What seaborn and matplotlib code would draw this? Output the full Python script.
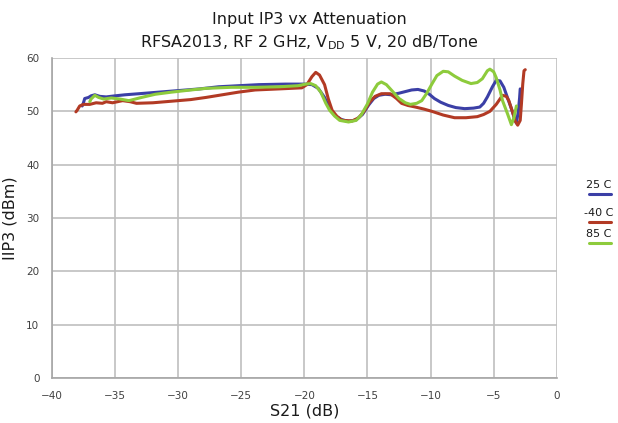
import matplotlib
matplotlib.use("Agg")
import matplotlib.pyplot as plt
from matplotlib.lines import Line2D
import seaborn as sns
import pandas as pd

# series: S21 (dB) vs IIP3 (dBm)
s21_25c = [-37.6, -37.5, -37.4, -37.1, -36.9, -36.6, -36.2, -35.7, -35.0, -34.2, -33.1, -31.5,
           -29.9, -28.3, -26.8, -25.2, -23.6, -21.5, -20.0, -19.4, -18.9, -18.4, -18.0, -17.6,
           -17.1, -16.5, -15.9, -15.4, -14.9, -14.5, -14.1, -13.6, -13.1, -12.5, -12.0, -11.5,
           -11.0, -10.5, -10.1, -9.7, -9.2, -8.6, -8.0, -7.3, -6.6, -6.1, -5.8, -5.5, -5.1,
           -4.8, -4.5, -4.2, -3.9, -3.6, -3.3, -3.2, -3.05, -2.95, -2.9]
iip3_25c = [51.0, 51.6, 52.4, 52.6, 52.9, 53.1, 52.8, 52.7, 52.9, 53.1, 53.3, 53.6,
            53.9, 54.2, 54.6, 54.8, 55.0, 55.1, 55.1, 55.0, 54.3, 52.6, 50.6, 49.3,
            48.5, 48.1, 48.4, 49.4, 51.2, 52.4, 53.0, 53.2, 53.1, 53.4, 53.7, 54.0,
            54.1, 53.8, 53.2, 52.4, 51.7, 51.1, 50.7, 50.5, 50.6, 50.8, 51.5, 52.7, 54.6,
            55.8, 55.7, 54.5, 52.5, 50.5, 48.3, 47.8, 50.0, 52.5, 54.2]

s21_m40c = [-38.1, -38.0, -37.8, -37.5, -37.0, -36.5, -36.0, -35.7, -35.2, -34.4, -33.8, -33.3,
            -32.0, -30.5, -29.0, -27.8, -26.5, -25.2, -23.9, -22.0, -20.2, -19.8, -19.4, -19.1,
            -18.8, -18.4, -18.1, -17.8, -17.4, -17.0, -16.2, -15.7, -15.3, -14.8, -14.4, -13.9,
            -13.2, -12.7, -12.3, -11.8, -11.2, -10.5, -9.9, -9.0, -8.1, -7.2, -6.3, -5.8, -5.3,
            -4.8, -4.3, -4.0, -3.8, -3.5, -3.3, -3.1, -2.9, -2.8, -2.7, -2.6, -2.5]
iip3_m40c = [49.9, 50.2, 51.0, 51.3, 51.3, 51.6, 51.5, 51.8, 51.6, 52.0, 51.8, 51.5,
             51.6, 51.9, 52.2, 52.6, 53.1, 53.6, 54.0, 54.2, 54.4, 55.0, 56.5, 57.3,
             56.8, 55.0, 52.3, 50.2, 49.0, 48.3, 48.2, 48.8, 49.9, 51.8, 52.8, 53.3,
             53.3, 52.4, 51.5, 51.1, 50.8, 50.4, 50.0, 49.3, 48.8, 48.8, 49.0, 49.4, 50.0,
             51.3, 53.0, 52.8, 52.0, 49.8, 48.2, 47.4, 48.3, 51.5, 55.1, 57.6, 57.8]

s21_85c = [-37.0, -36.9, -36.6, -36.3, -35.9, -35.3, -34.6, -33.9, -32.9, -31.8, -30.5, -29.0,
           -27.8, -25.8, -23.9, -22.0, -20.5, -19.9, -19.5, -19.1, -18.7, -18.3, -18.0, -17.6,
           -17.2, -16.5, -15.9, -15.5, -15.0, -14.6, -14.2, -13.9, -13.5, -13.0, -12.5, -12.0,
           -11.6, -11.1, -10.7, -10.3, -9.9, -9.5, -9.0, -8.6, -8.1, -7.5, -6.8, -6.3, -5.9,
           -5.5, -5.3, -5.0, -4.8, -4.5, -4.3, -3.9, -3.6, -3.4, -3.2]
iip3_85c = [51.8, 52.3, 53.0, 52.6, 52.3, 52.5, 52.3, 52.0, 52.6, 53.2, 53.6, 54.0,
            54.3, 54.5, 54.5, 54.6, 54.8, 55.1, 55.2, 54.8, 53.6, 51.5, 50.2, 49.1,
            48.3, 48.0, 48.3, 49.3, 51.4, 53.6, 55.1, 55.5, 55.0, 53.7, 52.4, 51.6,
            51.3, 51.5, 52.0, 53.4, 55.1, 56.7, 57.5, 57.4, 56.6, 55.8, 55.2, 55.4, 56.1,
            57.6, 57.9, 57.4, 56.3, 54.0, 52.0, 49.5, 47.5, 48.8, 51.0]

labels = ["25 C", "-40 C", "85 C"]
colors = ["#3b3fa6", "#b23a24", "#8dcb3c"]

series = [(s21_25c, iip3_25c), (s21_m40c, iip3_m40c), (s21_85c, iip3_85c)]

sns.set_style("white")
plt.rcParams["font.family"] = ["DejaVu Sans"]
plt.rcParams["mathtext.fontset"] = "dejavusans"

fig = plt.figure(figsize=(6.18, 4.23), dpi=100)
ax = fig.add_axes([0.084, 0.106, 0.817, 0.757])

for (xs, ys), lab, col in zip(series, labels, colors):
    df = pd.DataFrame({"S21": xs, "IIP3": ys})
    sns.lineplot(data=df, x="S21", y="IIP3", ax=ax, color=col, lw=2.2,
                 sort=False, estimator=None, label=lab, legend=False)

ax.set_xlim(-40, 0)
ax.set_ylim(0, 60)
ax.set_xticks(range(-40, 1, 5))
ax.set_yticks(range(0, 61, 10))
ax.grid(True, color="#bfbfbf", lw=1.2)
ax.set_axisbelow(True)
for side in ["top", "right"]:
    ax.spines[side].set_visible(False)
for side in ["left", "bottom"]:
    ax.spines[side].set_color("#a6a6a6")
    ax.spines[side].set_linewidth(1.2)
ax.tick_params(length=0, labelsize=7.5, colors="#404040")
ax.tick_params(axis="x", pad=9)
ax.tick_params(axis="y", pad=9)

ax.set_xlabel("S21 (dB)", fontsize=11.5, color="#1a1a1a", labelpad=2)
ax.set_ylabel("IIP3 (dBm)", fontsize=11.5, color="#1a1a1a", labelpad=6)

fig.text(0.5, 0.953, "Input IP3 vx Attenuation", ha="center", va="center",
         fontsize=11.5, color="#1a1a1a")
fig.text(0.5, 0.898, r"RFSA2013, RF 2 GHz, V$_{\mathrm{DD}}$ 5 V, 20 dB/Tone",
         ha="center", va="center", fontsize=11.5, color="#1a1a1a")

# legend drawn as labels with coloured underline, right of the plot
leg_y = [185, 213, 234]
for lab, col, yy in zip(labels, colors, leg_y):
    fy = 1 - yy / 423
    fig.text(599 / 618, fy, lab, ha="center", va="center", fontsize=8, color="#1a1a1a")
    fig.add_artist(Line2D([589 / 618, 611 / 618], [fy - 9 / 423, fy - 9 / 423],
                          color=col, lw=2.2, transform=fig.transFigure))

fig.savefig("out.png", dpi=100)
